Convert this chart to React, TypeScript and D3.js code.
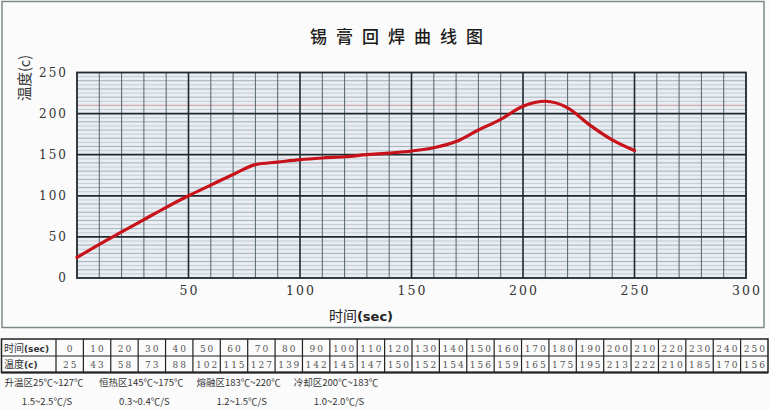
import React from "react";
import * as d3 from "d3";

const title = "锡膏回焊曲线图";
const yTitle = "温度(c)";
const xTitleCjk = "时间";
const xTitleUnit = "(sec)";

const curveTimes = [0, 10, 20, 30, 40, 50, 60, 70, 80, 90, 100, 110, 120, 130, 140, 150, 160, 170, 180, 190, 200, 210, 220, 230, 240, 250];
const curveTemps = [25, 41, 56, 71, 86, 100, 113, 126, 138, 141, 144, 146, 147.5, 150, 152, 154.5, 158.5, 166, 180, 193, 209, 215, 207, 186, 168, 155];

const xTicks = [50, 100, 150, 200, 250, 300];
const yTicks = [0, 50, 100, 150, 200, 250];

const tableTimes = [0, 10, 20, 30, 40, 50, 60, 70, 80, 90, 100, 110, 120, 130, 140, 150, 160, 170, 180, 190, 200, 210, 220, 230, 240, 250];
const tableTemps = [25, 43, 58, 73, 88, 102, 115, 127, 139, 142, 145, 147, 150, 152, 154, 156, 159, 165, 175, 195, 213, 222, 210, 185, 170, 156];
const rowHeaders = ["时间(sec)", "温度(c)"];

const zoneNames = ["升温区25℃~127℃", "恒热区145℃~175℃", "熔融区183℃~220℃", "冷却区200℃~183℃"];
const zoneRates = ["1.5~2.5℃/S", "0.3~0.4℃/S", "1.2~1.5℃/S", "1.0~2.0℃/S"];

const W = 770, H = 410;
const L = 77, R = 746, T = 72.5, B = 278;
const serif = "'DejaVu Serif', 'Liberation Serif', serif";
const cjk = "'Noto Sans CJK SC', 'Noto Sans', sans-serif";

export default function App() {
  const x = d3.scaleLinear().domain([0, 300]).range([L, R]);
  const y = d3.scaleLinear().domain([0, 250]).range([B, T]);
  const line = d3.line<number>()
    .x((_, i) => x(curveTimes[i]))
    .y((d) => y(d))
    .curve(d3.curveMonotoneX);

  const minorY = d3.range(0, 251, 5).filter((v) => v % 50 !== 0);
  const vLines = d3.range(10, 300, 10);

  const tL = 1.5, tR = 768, tTop = 339, tMid = 356, tBot = 372.5, hdrW = 56;
  const col = d3.scaleBand<number>().domain(tableTimes).range([tL + hdrW - 1.5, tR]);

  const zoneX = d3.scalePoint<number>().domain([0, 1, 2, 3]).range([44, 336]);

  return (
    <svg width={W} height={H} style={{ position: "absolute", left: 0, top: 0, background: "#fbfbfb" }}>
      <rect x={0} y={0} width={W} height={H} fill="#fbfbfb" />
      <rect x={2} y={1.5} width={762} height={326} fill="none" stroke="#7d8a8a" strokeWidth={1.5} />

      <text x={401} y={43} textAnchor="middle" fontFamily={cjk} fontWeight={500} fontSize={17} letterSpacing={9} fill="#1a1a1a">{title}</text>

      <rect x={L} y={T} width={R - L} height={B - T} fill="#eaedf2" />
      {minorY.map((v) => (
        <line key={"my" + v} x1={L} x2={R} y1={y(v)} y2={y(v)} stroke={v % 10 === 0 ? "#a3b2bd" : "#c3ced6"} strokeWidth={1} />
      ))}
      <line x1={L} x2={R} y1={y(210)} y2={y(210)} stroke="#dba6ae" strokeWidth={1} />
      {vLines.map((v) => (
        <line key={"vx" + v} x1={x(v)} x2={x(v)} y1={T} y2={B} stroke={v % 50 === 0 ? "#1f2a2e" : "#56666e"} strokeWidth={v % 50 === 0 ? 1.6 : 1} />
      ))}
      {yTicks.filter((v) => v > 0 && v < 250).map((v) => (
        <line key={"my50" + v} x1={L} x2={R} y1={y(v)} y2={y(v)} stroke="#1f2a2e" strokeWidth={1.8} />
      ))}
      <rect x={L} y={T} width={R - L} height={B - T} fill="none" stroke="#1f2a2e" strokeWidth={1.8} />

      <path d={line(curveTemps) || ""} fill="none" stroke="#c8121a" strokeWidth={3.2} strokeLinejoin="round" strokeLinecap="round" />

      {yTicks.map((v) => (
        <text key={"yt" + v} x={68} y={y(v) + 4} textAnchor="end" fontFamily={serif} fontSize={12} letterSpacing={2} fill="#333">{v}</text>
      ))}
      {xTicks.map((v) => (
        <text key={"xt" + v} x={x(v) + 1} y={295} textAnchor="middle" fontFamily={serif} fontSize={12.5} letterSpacing={2} fill="#333">{v}</text>
      ))}

      <text transform="translate(30,78) rotate(-90)" textAnchor="middle" fontFamily={cjk} fontSize={14.5} fill="#333">{yTitle}</text>

      <text x={361} y={321} textAnchor="middle" fontFamily={cjk} fontSize={14} fill="#222">
        {xTitleCjk}
        <tspan fontFamily="'DejaVu Sans', sans-serif" fontWeight="bold" fontSize={13}>{xTitleUnit}</tspan>
      </text>

      <rect x={tL} y={tTop} width={tR - tL} height={tBot - tTop} fill="#fbfbfb" stroke="#222" strokeWidth={1.5} />
      <line x1={tL} x2={tR} y1={tMid} y2={tMid} stroke="#222" strokeWidth={1.2} />
      <line x1={tL} x2={tR} y1={tBot} y2={tBot} stroke="#222" strokeWidth={2} />
      {tableTimes.map((t) => (
        <line key={"tc" + t} x1={col(t)!} x2={col(t)!} y1={tTop} y2={tBot} stroke="#222" strokeWidth={1.2} />
      ))}
      {rowHeaders.map((h, i) => {
        const cy = i === 0 ? 351.5 : 368;
        const m = h.match(/^(.*?)(\(.*\))$/);
        return (
          <text key={"rh" + i} x={4} y={cy} fontFamily={cjk} fontSize={10} fill="#333">
            {m ? m[1] : h}
            <tspan fontFamily="'DejaVu Sans', sans-serif" fontWeight="bold" fontSize={9}>{m ? m[2] : ""}</tspan>
          </text>
        );
      })}
      {tableTimes.map((t) => (
        <text key={"tt" + t} x={col(t)! + col.bandwidth() / 2 + 1} y={351.5} textAnchor="middle" fontFamily={serif} fontSize={9} letterSpacing={2} fill="#555">{t}</text>
      ))}
      {tableTemps.map((v, i) => (
        <text key={"tv" + i} x={col(tableTimes[i])! + col.bandwidth() / 2 + 1} y={368} textAnchor="middle" fontFamily={serif} fontSize={9} letterSpacing={2} fill="#555">{v}</text>
      ))}

      {zoneNames.map((z, i) => (
        <text key={"zn" + i} x={zoneX(i)!} y={386} textAnchor="middle" fontFamily={cjk} fontSize={9.5} fill="#333">{z}</text>
      ))}
      {zoneRates.map((z, i) => (
        <text key={"zr" + i} x={zoneX(i)! + 3} y={405} textAnchor="middle" fontFamily={cjk} fontSize={9.5} fill="#333">{z}</text>
      ))}
    </svg>
  );
}
